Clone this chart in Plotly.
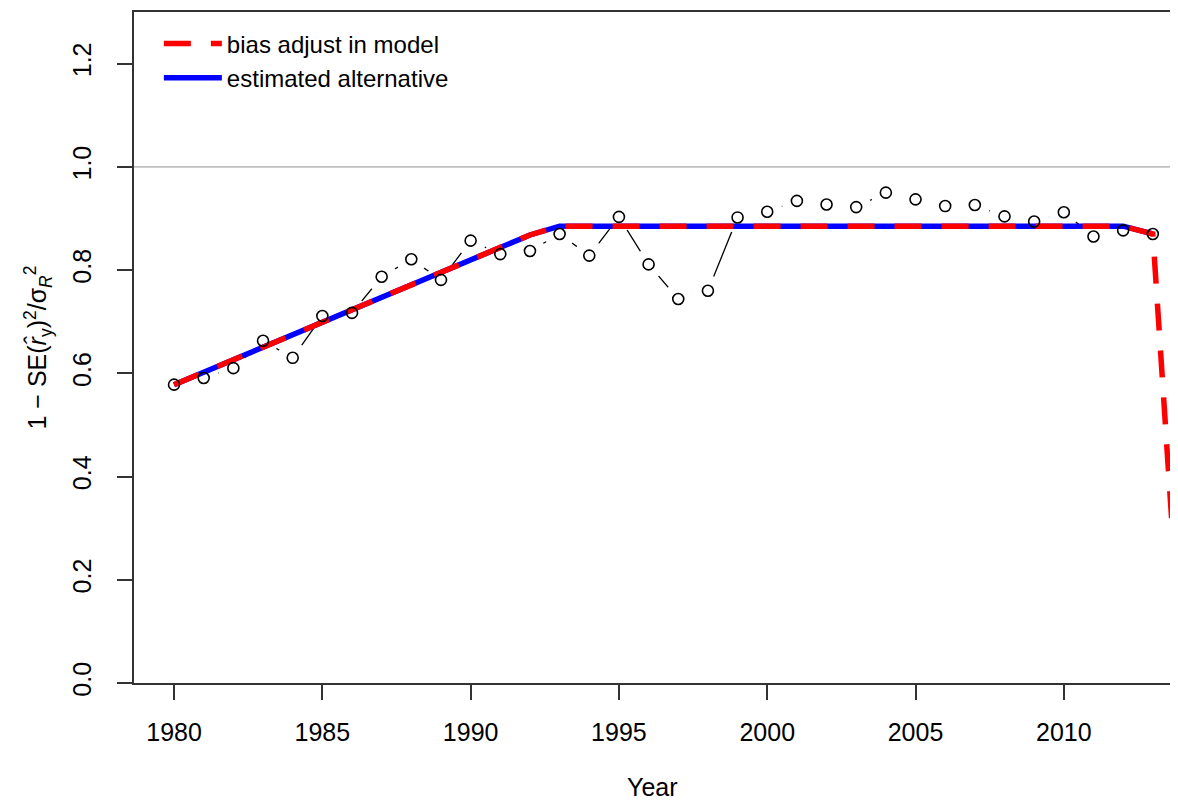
import plotly.graph_objects as go

# observed values, one per year
years = list(range(1980, 2014))
observed = [0.578, 0.591, 0.610, 0.663, 0.630, 0.711, 0.717, 0.787, 0.821, 0.781,
            0.857, 0.831, 0.837, 0.870, 0.828, 0.903, 0.811, 0.744, 0.760, 0.902,
            0.913, 0.934, 0.927, 0.922, 0.950, 0.937, 0.924, 0.926, 0.904, 0.894,
            0.912, 0.865, 0.877, 0.870]

# bias adjustment ramps
alt_years = [1980, 1992, 1993, 2012, 2013]
alt_values = [0.578, 0.868, 0.885, 0.885, 0.870]
model_years = [1980, 1992, 1993, 2012, 2013, 2014]
model_values = [0.578, 0.868, 0.885, 0.885, 0.870, 0.0]

font = "Liberation Sans, Arial, sans-serif"

fig = go.Figure()

# type="b" style connector: solid line, gaps made by white halos
fig.add_trace(go.Scatter(x=years, y=observed, mode='lines',
                         line=dict(color='black', width=1.3),
                         showlegend=False, hoverinfo='skip'))
fig.add_trace(go.Scatter(x=years, y=observed, mode='markers',
                         marker=dict(size=31, color='white', line=dict(width=0)),
                         showlegend=False, hoverinfo='skip'))

fig.add_trace(go.Scatter(x=alt_years, y=alt_values, mode='lines',
                         name='estimated alternative', legendrank=2,
                         line=dict(color='#0000ff', width=5.5)))
fig.add_trace(go.Scatter(x=model_years, y=model_values, mode='lines',
                         name='bias adjust in model', legendrank=1,
                         line=dict(color='#ff0000', width=5.5, dash='27px,20px')))

fig.add_trace(go.Scatter(x=years, y=observed, mode='markers',
                         marker=dict(symbol='circle-open', size=11, color='black',
                                     line=dict(width=1.6, color='black')),
                         showlegend=False))

# reference line at 1
fig.add_shape(type='line', xref='paper', x0=0, x1=1, y0=1, y1=1,
              line=dict(color='#c0c0c0', width=1.6), layer='below')

# x axis title as annotation (standoff is ignored without automargin)
fig.add_annotation(text='Year', xref='paper', yref='paper', x=0.5, y=0,
                   xanchor='center', yanchor='middle', yshift=-104,
                   showarrow=False, font=dict(size=25))

# page body has an 8px margin, keep the figure inside it (no scrollbars)
fig.update_layout(
    width=1162, height=793,
    margin=dict(l=126, r=0, t=4, b=118),
    paper_bgcolor='white', plot_bgcolor='white',
    font=dict(family=font, size=25, color='black'),
    showlegend=True,
    legend=dict(x=0.024, y=0.986, xanchor='left', yanchor='top',
                bgcolor='rgba(0,0,0,0)', font=dict(size=24),
                tracegroupgap=0, itemwidth=58),
    xaxis=dict(range=[1978.65, 2013.58], tickvals=[1980, 1985, 1990, 1995, 2000, 2005, 2010],
               automargin=False,
               showgrid=False, zeroline=False, showline=True, linecolor='#333333',
               linewidth=2, mirror=True, ticks='outside', ticklen=15, tickwidth=2,
               tickcolor='#333333', ticklabelstandoff=11),
    yaxis=dict(range=[0, 1.3], tickvals=[0, 0.2, 0.4, 0.6, 0.8, 1.0, 1.2],
               automargin=False,
               tickformat='.1f', tickangle=-90,
               showgrid=False, zeroline=False, showline=True, linecolor='#333333',
               linewidth=2, ticks='outside', ticklen=15, tickwidth=2,
               tickcolor='#333333', ticklabelstandoff=16,
               title=dict(text='1 \u2212 SE(<i>r\u0302</i><sub>y</sub>)<sup>2</sup>/\u03c3<sub><i>R</i></sub><sup>2</sup>',
                          standoff=14, font=dict(size=25))),
)

fig.write_html("out.html")
